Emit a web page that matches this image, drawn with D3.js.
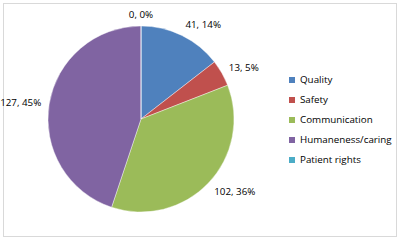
<html lang="en">
<head>
  <meta charset="UTF-8"/>
  <script src="https://d3js.org/d3.v7.min.js"></script>
  <style>
    body { margin: 0; background: #fff; }
    svg { display: block; }
    text { font-family: 'Open Sans', sans-serif; font-size: 9.8px; fill: #000; }
  </style>
</head>
<body>
  <svg width="400" height="241"></svg>
<script>
  const categories = ['Quality', 'Safety', 'Communication', 'Humaneness/caring', 'Patient rights'];
  const counts = [41, 13, 102, 127, 0];
  const percentLabels = ['14%', '5%', '36%', '45%', '0%'];
  const colors = ['#4f81bd', '#c0504d', '#9bbb59', '#8064a2', '#4bacc6'];

  const svg = d3.select('svg');

  // chart frame
  svg.append('rect')
    .attr('x', 3.5).attr('y', 3.5)
    .attr('width', 393).attr('height', 233)
    .attr('fill', '#fff')
    .attr('stroke', '#d9d9d9');

  const cx = 141, cy = 119, r = 93;
  const data = categories.map((c, i) => ({ name: c, value: counts[i], pct: percentLabels[i], color: colors[i] }));

  const pie = d3.pie().value(d => d.value).sort(null);
  const arc = d3.arc().innerRadius(0).outerRadius(r);
  const arcs = pie(data);

  const g = svg.append('g').attr('transform', `translate(${cx},${cy})`);

  g.selectAll('path')
    .data(arcs)
    .enter()
    .append('path')
    .attr('d', arc)
    .attr('fill', d => d.data.color)
    .attr('stroke', '#fff')
    .attr('stroke-width', 0.4);

  // outside end labels
  const lr = r + 8;
  g.selectAll('text.lbl')
    .data(arcs)
    .enter()
    .append('text')
    .attr('class', 'lbl')
    .each(function (d) {
      const a = (d.startAngle + d.endAngle) / 2;
      const s = Math.sin(a), c = Math.cos(a);
      d3.select(this)
        .attr('x', lr * s)
        .attr('y', -lr * c)
        .attr('dy', (0.35 - 0.4 * c) + 'em')
        .attr('text-anchor', s > 0.1 ? 'start' : (s < -0.1 ? 'end' : 'middle'))
        .text(`${d.data.value}, ${d.data.pct}`);
    });

  // legend
  const legend = svg.append('g').attr('transform', 'translate(289, 80)');
  const items = legend.selectAll('g')
    .data(data)
    .enter()
    .append('g')
    .attr('transform', (d, i) => `translate(0, ${i * 20})`);

  items.append('rect')
    .attr('x', 0).attr('y', -3)
    .attr('width', 6).attr('height', 6)
    .attr('fill', d => d.color);

  items.append('text')
    .attr('x', 11)
    .attr('dy', '0.35em')
    .text(d => d.name);
</script>
</body>
</html>
